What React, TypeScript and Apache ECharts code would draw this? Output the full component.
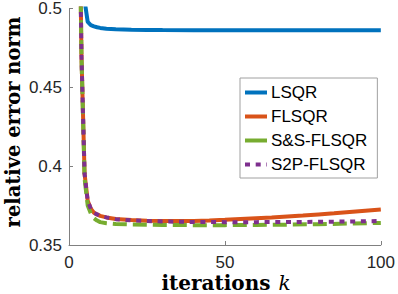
import React, { useEffect, useRef } from "react";
import * as echarts from "echarts";

const kLsqr = [1, 2, 3, 4, 5, 6, 7, 8, 9, 10, 12, 15, 20, 25, 30, 40, 50, 60, 70, 80, 90, 100];
const lsqr = [0.95, 0.82, 0.72, 0.62, 0.505, 0.4915, 0.4895, 0.4887, 0.4881, 0.4877, 0.4872, 0.4868, 0.4865, 0.4864, 0.4863, 0.4862, 0.4862, 0.4862, 0.4862, 0.4862, 0.4862, 0.4862];

const kF = [1, 2, 3, 4, 5, 6, 7, 8, 9, 10, 12, 15, 20, 25, 30, 35, 40, 45, 50, 55, 60, 65, 70, 75, 80, 85, 90, 95, 100];
const flsqr = [1.0, 0.8, 0.62, 0.47, 0.395, 0.378, 0.373, 0.3705, 0.3694, 0.3685, 0.3675, 0.3665, 0.3658, 0.3654, 0.3652, 0.3652, 0.3653, 0.3656, 0.366, 0.3665, 0.367, 0.3675, 0.3681, 0.3687, 0.3694, 0.3701, 0.3709, 0.3717, 0.3725];

const kS = [1, 2, 3, 4, 5, 6, 7, 8, 9, 10, 12, 15, 20, 30, 40, 50, 60, 70, 80, 90, 100];
const ssFlsqr = [1.0, 0.8, 0.62, 0.47, 0.392, 0.375, 0.37, 0.367, 0.3655, 0.3645, 0.3638, 0.3633, 0.363, 0.3627, 0.3626, 0.3626, 0.3627, 0.3629, 0.3632, 0.3636, 0.364];
const s2pFlsqr = [1.0, 0.8, 0.62, 0.47, 0.395, 0.378, 0.373, 0.3705, 0.3694, 0.3685, 0.3675, 0.3664, 0.3656, 0.3649, 0.3646, 0.3645, 0.3645, 0.3646, 0.3647, 0.3649, 0.3652];

const yTicks = ["0.35", "0.4", "0.45", "0.5"];
const xTicks = ["0", "50", "100"];

const pair = (ks: number[], vs: number[]) => ks.map((k, i) => [k, vs[i]]);

export default function App() {
  const ref = useRef<HTMLDivElement>(null);
  useEffect(() => {
    if (!ref.current) return;
    const chart = echarts.init(ref.current, null, { renderer: "svg" });
    const tickFont = { fontFamily: "Liberation Sans", fontSize: 17, color: "#262626" };
    chart.setOption({
      animation: false,
      grid: { left: 69, right: 15, top: 6, bottom: 49, containLabel: false },
      xAxis: {
        type: "value",
        min: 0,
        max: 100,
        interval: 50,
        axisLine: { show: true, lineStyle: { color: "#808080", width: 1 } },
        axisTick: { show: true, inside: true, length: 4, lineStyle: { color: "#808080" } },
        splitLine: { show: false },
        axisLabel: {
          ...tickFont,
          margin: 9,
          formatter: (v: number) => xTicks.find((t) => Number(t) === v) ?? "",
        },
      },
      yAxis: {
        type: "value",
        min: 0.35,
        max: 0.5,
        interval: 0.05,
        axisLine: { show: true, lineStyle: { color: "#808080", width: 1 } },
        axisTick: { show: true, inside: true, length: 4, lineStyle: { color: "#808080" } },
        splitLine: { show: false },
        axisLabel: {
          ...tickFont,
          margin: 7,
          formatter: (v: number) => yTicks.find((t) => Math.abs(Number(t) - v) < 1e-9) ?? "",
        },
      },
      legend: {
        orient: "vertical",
        left: 240,
        top: 78,
        padding: [6, 10, 5, 3],
        itemGap: 7,
        itemWidth: 22,
        itemHeight: 14,
        backgroundColor: "#ffffff",
        borderColor: "#a0a0a0",
        borderWidth: 1,
        borderRadius: 0,
        itemStyle: { opacity: 0 },
        lineStyle: { width: 4 },
        textStyle: { fontFamily: "Liberation Sans", fontSize: 17, color: "#000", padding: [0, 0, 0, -1] },
        data: [
          { name: "LSQR", lineStyle: { width: 4 } },
          { name: "FLSQR", lineStyle: { width: 4 } },
          { name: "S&S-FLSQR", lineStyle: { type: "solid", width: 4 } },
          { name: "S2P-FLSQR", lineStyle: { width: 4 } },
        ],
      },
      series: [
        {
          name: "LSQR",
          type: "line",
          data: pair(kLsqr, lsqr),
          symbol: "none",
          clip: true,
          lineStyle: { color: "#0072BD", width: 4 },
          itemStyle: { color: "#0072BD" },
        },
        {
          name: "FLSQR",
          type: "line",
          data: pair(kF, flsqr),
          symbol: "none",
          clip: true,
          lineStyle: { color: "#D95319", width: 4 },
          itemStyle: { color: "#D95319" },
        },
        {
          name: "S&S-FLSQR",
          type: "line",
          data: pair(kS, ssFlsqr),
          symbol: "none",
          clip: true,
          lineStyle: { color: "#77AC30", width: 4, type: [14, 6], cap: "butt" },
          itemStyle: { color: "#77AC30" },
        },
        {
          name: "S2P-FLSQR",
          type: "line",
          data: pair(kS, s2pFlsqr),
          symbol: "none",
          clip: true,
          lineStyle: { color: "#7E2F8E", width: 4, type: [5, 5.7], cap: "butt" },
          itemStyle: { color: "#7E2F8E" },
        },
      ],
      graphic: [
        {
          type: "text",
          x: 226,
          y: 283,
          style: {
            text: "{b|iterations}{i|k}",
            align: "center",
            verticalAlign: "middle",
            rich: {
              b: { fontFamily: "DejaVu Serif", fontWeight: "bold", fontSize: 20, lineHeight: 20, fill: "#000" },
              i: { fontFamily: "DejaVu Serif", fontStyle: "italic", fontSize: 20, lineHeight: 20, fill: "#000", padding: [0, 0, 0, 8] },
            },
          },
        },
        {
          type: "text",
          x: 13,
          y: 122,
          rotation: Math.PI / 2,
          style: {
            text: "relative error norm",
            fontFamily: "DejaVu Serif",
            fontWeight: "bold",
            fontSize: 19.5,
            fill: "#000",
            align: "center",
            verticalAlign: "middle",
          },
        },
      ],
    });
    return () => chart.dispose();
  }, []);
  return <div ref={ref} style={{ width: 398, height: 294, position: "absolute", left: 0, top: 0 }} />;
}
